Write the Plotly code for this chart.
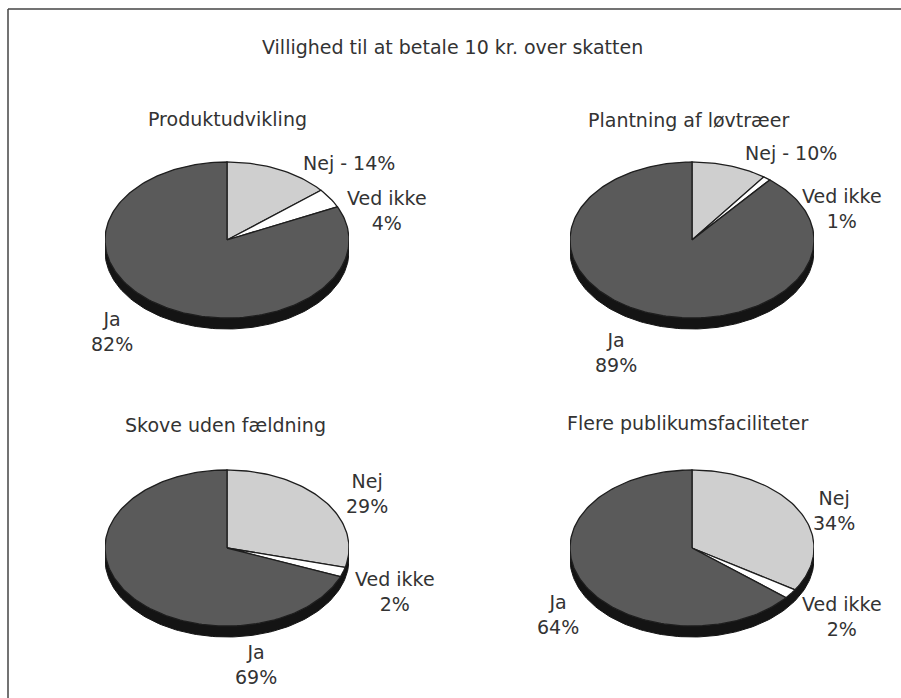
import numpy as np
import plotly.graph_objects as go

# Survey answers: willingness to pay 10 kr. extra in tax
titles = ["Produktudvikling", "Plantning af løvtræer",
          "Skove uden fældning", "Flere publikumsfaciliteter"]
categories = ["Nej", "Ved ikke", "Ja"]
nej = [14, 10, 29, 34]
ved_ikke = [4, 1, 2, 2]
ja = [82, 89, 69, 64]
main_title = "Villighed til at betale 10 kr. over skatten"

W, H = 901, 698
RX, RY = 122, 78          # half axes of each pie face, px
DEPTH = 11 / RY           # thickness of the pie rim, in y-axis units
centers = [(227, 240), (692, 240), (227, 548), (692, 548)]
colors = {"Nej": "#cfcfcf", "Ved ikke": "#ffffff", "Ja": "#5a5a5a"}
edge = "#1e1e1e"
font = dict(family="DejaVu Sans, Liberation Sans, Arial", size=19, color="#333333")

# label placements (px) per pie, for Nej / Ved ikke / Ja
label_pos = [
    [(349, 163), (387, 210), (112, 331)],
    [(791, 153), (842, 208), (616, 352)],
    [(367, 493), (395, 591), (256, 664)],
    [(834, 510), (842, 616), (558, 614)],
]
nej_sep = [" - ", " - ", "<br>", "<br>"]
subtitle_pos = [(227, 119), (688, 120), (225, 425), (688, 423)]


def arc(a0, a1, n):
    """Angles measured clockwise from 12 o'clock, in degrees."""
    t = np.radians(np.linspace(a0, a1, n))
    return np.sin(t), np.cos(t)


fig = go.Figure()
for i, (cx, cy) in enumerate(centers):
    k = "" if i == 0 else str(i + 1)
    xa, ya = "x" + k, "y" + k
    vals = [nej[i], ved_ikke[i], ja[i]]

    # dark rim along the front half of the disc
    bx, by = arc(90, 270, 120)
    rim_x = np.concatenate([bx, bx[::-1]])
    rim_y = np.concatenate([by, by[::-1] - DEPTH])
    fig.add_trace(go.Scatter(x=rim_x, y=rim_y, fill="toself", mode="lines",
                             fillcolor="#141414", line=dict(color="#141414", width=1),
                             xaxis=xa, yaxis=ya, hoverinfo="skip", showlegend=False))

    # slices, clockwise from the top
    start = 0.0
    total = sum(vals)
    for cat, v in zip(categories, vals):
        end = start + 360.0 * v / total
        n = max(4, int(abs(end - start) / 1.5))
        sx, sy = arc(start, end, n)
        px = np.concatenate([[0], sx, [0]])
        py = np.concatenate([[0], sy, [0]])
        fig.add_trace(go.Scatter(x=px, y=py, fill="toself", mode="lines",
                                 fillcolor=colors[cat], line=dict(color=edge, width=1.3),
                                 name=cat, xaxis=xa, yaxis=ya,
                                 hovertemplate=f"{cat}: {v}%<extra></extra>",
                                 showlegend=False))
        start = end

    dom_x = [(cx - RX) / W, (cx + RX) / W]
    top_px, bot_px = cy - 90, cy + 100
    dom_y = [1 - bot_px / H, 1 - top_px / H]
    fig.update_layout(**{
        "xaxis" + k: dict(domain=dom_x, range=[-1, 1], visible=False, fixedrange=True),
        "yaxis" + k: dict(domain=dom_y, range=[-100 / RY, 90 / RY], visible=False,
                          fixedrange=True),
    })

    texts = [f"Nej{nej_sep[i]}{nej[i]}%", f"Ved ikke<br>{ved_ikke[i]}%", f"Ja<br>{ja[i]}%"]
    for t, (lx, ly) in zip(texts, label_pos[i]):
        fig.add_annotation(text=t, x=lx / W, y=1 - ly / H, xref="paper", yref="paper",
                           xanchor="center", yanchor="middle", showarrow=False, font=font)
    sx_, sy_ = subtitle_pos[i]
    fig.add_annotation(text=titles[i], x=sx_ / W, y=1 - sy_ / H, xref="paper", yref="paper",
                       xanchor="center", yanchor="middle", showarrow=False, font=font)

fig.add_annotation(text=main_title, x=452 / W, y=1 - 47 / H, xref="paper", yref="paper",
                   xanchor="center", yanchor="middle", showarrow=False, font=font)

# frame lines along the top and left edges
fig.add_shape(type="line", xref="paper", yref="paper", x0=8 / W, x1=1, y0=1 - 9 / H, y1=1 - 9 / H,
              line=dict(color="#444444", width=1.5))
fig.add_shape(type="line", xref="paper", yref="paper", x0=8 / W, x1=8 / W, y0=0, y1=1 - 9 / H,
              line=dict(color="#444444", width=1.5))

fig.update_layout(width=W, height=H, margin=dict(l=0, r=0, t=0, b=0),
                  paper_bgcolor="white", plot_bgcolor="white", showlegend=False)
fig.write_html("out.html")
